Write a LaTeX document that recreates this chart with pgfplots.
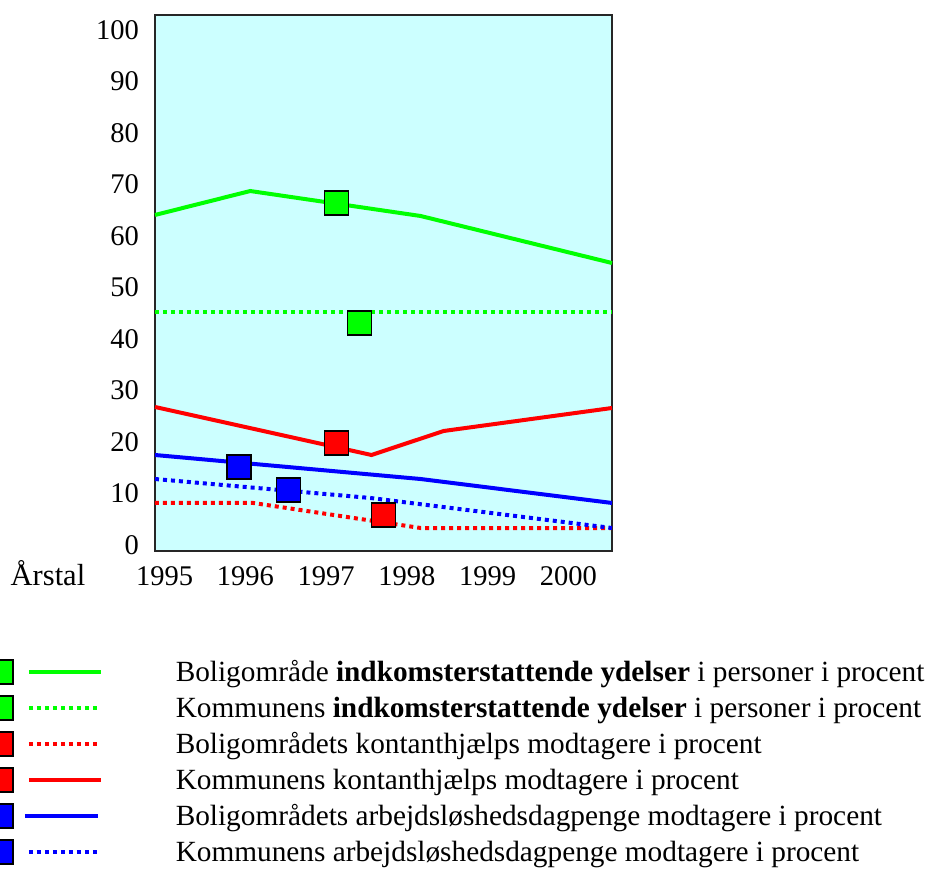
\documentclass[border=0pt]{standalone}
\usepackage{fontspec}
\setmainfont{Liberation Serif}
\usepackage{pgfplots}
\pgfplotsset{compat=1.18}
\definecolor{bgc}{HTML}{CCFFFF}
\definecolor{gr}{HTML}{00FF00}
\definecolor{rd}{HTML}{FF0000}
\definecolor{bl}{HTML}{0000FF}
\newcommand{\tickf}{\fontsize{28.5}{34}\selectfont}
\newcommand{\legf}{\fontsize{29.3}{35}\selectfont}
\begin{document}
\begin{tikzpicture}
\begin{axis}[
  name=ax,
  scale only axis, width=457pt, height=536pt,
  xmin=1994.882, xmax=2000.539, ymin=0, ymax=100,
  clip=false,
  axis background/.style={fill=bgc},
  axis line style={line width=1.5pt, draw=black!85},
  /pgf/number format/assume math mode=true,
  xtick={1995,1996,1997,1998,1999,2000},
  xticklabels={1995,1996,1997,1998,1999,2000},
  ytick={1.12,10.73,20.34,29.94,39.55,49.16,58.77,68.38,77.98,87.59,97.2},
  yticklabels={0,10,20,30,40,50,60,70,80,90,100},
  major tick length=0pt,
  tick label style={font=\tickf, inner sep=0pt},
  yticklabel style={xshift=-16pt},
  xticklabel style={yshift=-15pt},
  legend style={at={(axis description cs:-0.3654,-0.1922)}, anchor=north west,
    draw=none, fill=none, inner sep=0pt, outer sep=0pt, row sep=0pt, column sep=0pt,
    nodes={font=\legf, inner sep=0pt, outer sep=0pt, anchor=west}},
  legend cell align=left,
]
% Green solid (Boligomraade indkomsterstattende)
\addplot[forget plot, gr, line width=4pt] coordinates {(1994.882,62.69) (1996.061,67.16) (1998.170,62.50) (2000.539,53.73)};
% Green dotted (Kommunens indkomsterstattende)
\addplot[forget plot, gr, line width=4pt, dash pattern=on 4pt off 4pt] coordinates {(1994.882,44.59) (2000.539,44.59)};
% Red dotted (Boligomraadets kontanthjaelp)
\addplot[forget plot, rd, line width=4pt, dash pattern=on 4pt off 4pt] coordinates {(1994.882,8.96) (1996.098,8.96) (1998.170,4.29) (2000.539,4.29)};
% Red solid (Kommunens kontanthjaelp)
\addplot[forget plot, rd, line width=4pt] coordinates {(1994.882,26.87) (1997.562,17.91) (1998.455,22.39) (2000.539,26.68)};
% Blue solid (Boligomraadets arbejdsloeshed)
\addplot[forget plot, bl, line width=4pt] coordinates {(1994.882,17.91) (1998.170,13.43) (2000.539,8.96)};
% Blue dotted (Kommunens arbejdsloeshed)
\addplot[forget plot, bl, line width=4pt, dash pattern=on 4pt off 4pt] coordinates {(1994.882,13.43) (1997.550,9.89) (2000.539,4.29)};
% Markers
\addplot[forget plot, only marks, mark=square*, mark size=12pt, mark options={fill=gr, draw=black, line width=1.5pt}] coordinates {(1997.128,64.93) (1997.413,42.54)};
\addplot[forget plot, only marks, mark=square*, mark size=12pt, mark options={fill=rd, draw=black, line width=1.5pt}] coordinates {(1997.128,20.15) (1997.711,6.72)};
\addplot[forget plot, only marks, mark=square*, mark size=12pt, mark options={fill=bl, draw=black, line width=1.5pt}] coordinates {(1995.924,15.67) (1996.532,11.38)};
% Legend
\addlegendimage{legend image code/.code={
  \path[draw=none, fill=none] (0pt,-18pt) rectangle (187pt,18pt);
  \draw[line width=1.5pt, draw=black, fill=gr] (0pt,-12pt) rectangle (24pt,12pt);
  \draw[gr, line width=4pt] (40pt,0pt) -- (112pt,0pt);}}
\addlegendentry{Boligområde \textbf{indkomsterstattende ydelser} i personer i procent}
\addlegendimage{legend image code/.code={
  \path[draw=none, fill=none] (0pt,-18pt) rectangle (187pt,18pt);
  \draw[line width=1.5pt, draw=black, fill=gr] (0pt,-12pt) rectangle (24pt,12pt);
  \draw[gr, line width=4pt, dash pattern=on 4pt off 4pt] (40pt,0pt) -- (110pt,0pt);}}
\addlegendentry{Kommunens \textbf{indkomsterstattende ydelser} i personer i procent}
\addlegendimage{legend image code/.code={
  \path[draw=none, fill=none] (0pt,-18pt) rectangle (187pt,18pt);
  \draw[line width=1.5pt, draw=black, fill=rd] (0pt,-12pt) rectangle (24pt,12pt);
  \draw[rd, line width=4pt, dash pattern=on 4pt off 4pt] (40pt,0pt) -- (110pt,0pt);}}
\addlegendentry{Boligområdets kontanthjælps modtagere i procent}
\addlegendimage{legend image code/.code={
  \path[draw=none, fill=none] (0pt,-18pt) rectangle (187pt,18pt);
  \draw[line width=1.5pt, draw=black, fill=rd] (0pt,-12pt) rectangle (24pt,12pt);
  \draw[rd, line width=4pt] (40pt,0pt) -- (112pt,0pt);}}
\addlegendentry{Kommunens kontanthjælps modtagere i procent}
\addlegendimage{legend image code/.code={
  \path[draw=none, fill=none] (0pt,-18pt) rectangle (187pt,18pt);
  \draw[line width=1.5pt, draw=black, fill=bl] (0pt,-12pt) rectangle (24pt,12pt);
  \draw[bl, line width=4pt] (36pt,0pt) -- (109pt,0pt);}}
\addlegendentry{Boligområdets arbejdsløshedsdagpenge modtagere i procent}
\addlegendimage{legend image code/.code={
  \path[draw=none, fill=none] (0pt,-18pt) rectangle (187pt,18pt);
  \draw[line width=1.5pt, draw=black, fill=bl] (0pt,-12pt) rectangle (24pt,12pt);
  \draw[bl, line width=4pt, dash pattern=on 4pt off 4pt] (40pt,0pt) -- (110pt,0pt);}}
\addlegendentry{Kommunens arbejdsløshedsdagpenge modtagere i procent}
\node[anchor=base, font=\fontsize{30.5}{36}\selectfont, inner sep=0pt] at ([xshift=-107pt, yshift=-34pt]rel axis cs:0,0) {Årstal};
\end{axis}
\pgfresetboundingbox
\path[use as bounding box] ([xshift=-155pt,yshift=15pt]ax.north west) rectangle ([xshift=774pt,yshift=-857pt]ax.north west);
\end{tikzpicture}
\end{document}
